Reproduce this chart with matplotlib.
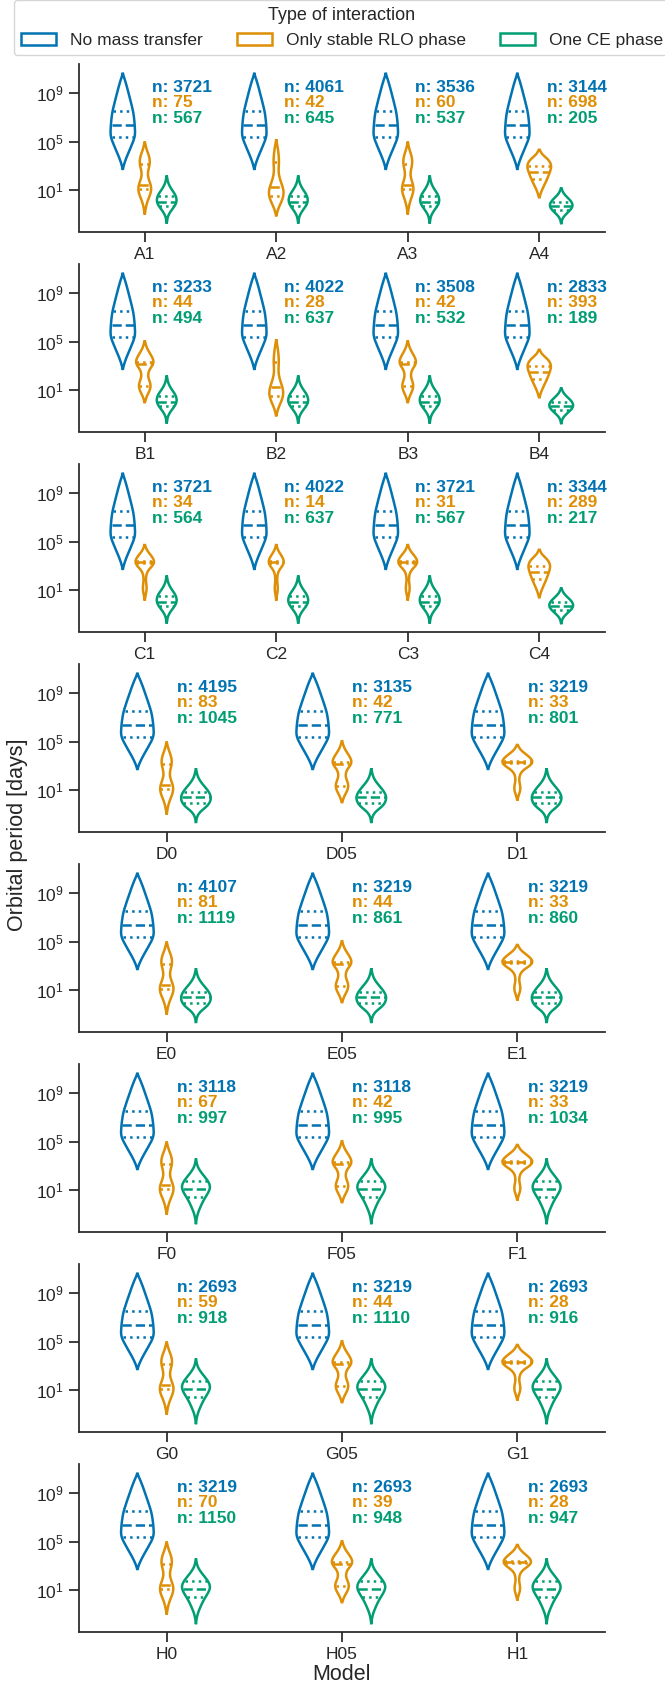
import numpy as np
import matplotlib
matplotlib.use("Agg")
import matplotlib.pyplot as plt
from matplotlib.path import Path
from matplotlib.patches import PathPatch, Patch

plt.rcParams['font.family'] = ['Liberation Sans', 'DejaVu Sans']
plt.rcParams['mathtext.fontset'] = 'custom'
plt.rcParams['mathtext.rm'] = 'Liberation Sans'
plt.rcParams['text.color'] = '#262626'
plt.rcParams['axes.edgecolor'] = '#262626'
plt.rcParams['xtick.color'] = '#262626'
plt.rcParams['ytick.color'] = '#262626'

# ---- data (periods in log10 days) ----
models = [["A1", "A2", "A3", "A4"],
          ["B1", "B2", "B3", "B4"],
          ["C1", "C2", "C3", "C4"],
          ["D0", "D05", "D1"],
          ["E0", "E05", "E1"],
          ["F0", "F05", "F1"],
          ["G0", "G05", "G1"],
          ["H0", "H05", "H1"]]

n_none = [[3721, 4061, 3536, 3144], [3233, 4022, 3508, 2833],
          [3721, 4022, 3721, 3344], [4195, 3135, 3219], [4107, 3219, 3219],
          [3118, 3118, 3219], [2693, 3219, 2693], [3219, 2693, 2693]]
n_rlo = [[75, 42, 60, 698], [44, 28, 42, 393], [34, 14, 31, 289],
         [83, 42, 33], [81, 44, 33], [67, 42, 33], [59, 44, 28], [70, 39, 28]]
n_ce = [[567, 645, 537, 205], [494, 637, 532, 189], [564, 637, 567, 217],
        [1045, 771, 801], [1119, 861, 860], [997, 995, 1034],
        [918, 1110, 916], [1150, 948, 947]]

# shape profiles: log10 period levels and relative density (width)
none_log = [10.7, 10.45, 10.2, 9.8, 9.4, 9.0, 8.5, 8.0, 7.5, 7.0, 6.5, 6.0,
            5.6, 5.2, 4.8, 4.4, 4.0, 3.6, 3.2, 2.9, 2.65]
none_w = [0, 0.05, 0.14, 0.26, 0.37, 0.47, 0.6, 0.72, 0.84, 0.91, 0.96, 0.99,
          1.0, 0.92, 0.76, 0.6, 0.43, 0.27, 0.13, 0.05, 0]
none_q = [5.35, 6.4, 7.56]

rlo_bimodal_log = [5.0, 4.6, 4.2, 3.8, 3.4, 3.0, 2.6, 2.2, 1.8, 1.4, 1.0, 0.6,
                   0.2, -0.2, -0.6, -1.05]
rlo_bimodal_w = [0, 0.15, 0.38, 0.65, 0.78, 0.72, 0.52, 0.46, 0.65, 0.92, 1.0,
                 0.82, 0.52, 0.28, 0.12, 0]
rlo_bimodal_q = [1.06, 1.41, 3.15]

rlo_lowpeak_log = [5.2, 4.8, 4.4, 4.0, 3.6, 3.2, 2.8, 2.4, 2.0, 1.6, 1.2, 0.8,
                   0.4, 0.0, -0.4, -0.8, -1.2]
rlo_lowpeak_w = [0, 0.1, 0.22, 0.3, 0.35, 0.36, 0.32, 0.32, 0.45, 0.65, 0.88,
                 1.0, 0.92, 0.68, 0.38, 0.14, 0]
rlo_lowpeak_q = [0.5, 1.27, 3.3]

rlo_single_log = [4.4, 4.1, 3.8, 3.5, 3.2, 2.9, 2.6, 2.3, 2.0, 1.7, 1.4, 1.1,
                  0.8, 0.5, 0.3]
rlo_single_w = [0, 0.12, 0.4, 0.75, 0.95, 1.0, 0.93, 0.82, 0.7, 0.57, 0.42,
                0.28, 0.15, 0.06, 0]
rlo_single_q = [1.9, 2.46, 2.94]

rlo_peak_log = [4.8, 4.5, 4.2, 3.9, 3.6, 3.3, 3.0, 2.7, 2.4, 2.1, 1.8, 1.5,
                1.2, 0.9, 0.6, 0.35, 0.1]
rlo_peak_w = [0, 0.1, 0.3, 0.6, 0.88, 1.0, 0.82, 0.45, 0.22, 0.14, 0.12, 0.16,
              0.2, 0.18, 0.1, 0.04, 0]
rlo_peak_q = [3.2, 3.3, 3.4]

rlo_double_log = [5.1, 4.7, 4.3, 3.9, 3.6, 3.3, 3.0, 2.7, 2.4, 2.1, 1.8, 1.5,
                  1.2, 0.9, 0.6, 0.3, -0.1]
rlo_double_w = [0, 0.12, 0.35, 0.68, 0.9, 1.0, 0.85, 0.55, 0.4, 0.38, 0.5,
                0.64, 0.65, 0.52, 0.32, 0.14, 0]
rlo_double_q = [1.33, 3.15, 3.3]

ce_narrow_log = [2.2, 1.9, 1.6, 1.3, 1.0, 0.7, 0.4, 0.1, -0.2, -0.5, -0.8,
                 -1.1, -1.4, -1.8]
ce_narrow_w = [0, 0.06, 0.14, 0.3, 0.52, 0.78, 0.95, 1.0, 0.9, 0.65, 0.38,
               0.17, 0.06, 0]
ce_narrow_q = [-0.33, 0.03, 0.45]

ce_low_log = [1.2, 0.95, 0.7, 0.45, 0.2, -0.05, -0.3, -0.55, -0.8, -1.05,
              -1.3, -1.55, -1.85]
ce_low_w = [0, 0.08, 0.22, 0.45, 0.72, 0.93, 1.0, 0.9, 0.65, 0.38, 0.16,
            0.05, 0]
ce_low_q = [-0.7, -0.35, 0.0]

ce_mid_log = [2.8, 2.5, 2.2, 1.9, 1.6, 1.3, 1.0, 0.7, 0.4, 0.1, -0.2, -0.5,
              -0.8, -1.1, -1.4, -1.75]
ce_mid_w = [0, 0.04, 0.1, 0.2, 0.36, 0.56, 0.76, 0.92, 1.0, 0.97, 0.85, 0.6,
            0.3, 0.12, 0.04, 0]
ce_mid_q = [-0.05, 0.39, 0.8]

ce_wide_log = [3.6, 3.3, 3.0, 2.7, 2.4, 2.1, 1.8, 1.5, 1.2, 0.9, 0.6, 0.3,
               0.0, -0.3, -0.6, -0.9, -1.2, -1.5, -1.85]
ce_wide_w = [0, 0.04, 0.1, 0.22, 0.4, 0.6, 0.8, 0.95, 1.0, 0.92, 0.78, 0.62,
             0.48, 0.36, 0.25, 0.15, 0.08, 0.03, 0]
ce_wide_q = [0.37, 1.11, 1.74]

rlo_shape = [["bimodal", "lowpeak", "bimodal", "single"],
             ["double", "lowpeak", "double", "single"],
             ["peak", "peak", "peak", "single"],
             ["bimodal", "double", "peak"],
             ["bimodal", "double", "peak"],
             ["bimodal", "double", "peak"],
             ["bimodal", "double", "peak"],
             ["bimodal", "double", "peak"]]
ce_shape = [["narrow", "narrow", "narrow", "low"],
            ["narrow", "narrow", "narrow", "low"],
            ["narrow", "narrow", "narrow", "low"],
            ["mid", "mid", "mid"],
            ["mid", "mid", "mid"],
            ["wide", "wide", "wide"],
            ["wide", "wide", "wide"],
            ["wide", "wide", "wide"]]

# maximum violin widths (category units)
none_width = 0.187
rlo_width = [[0.10, 0.114, 0.089, 0.183], [0.136, 0.108, 0.128, 0.18],
             [0.146, 0.118, 0.149, 0.167], [0.076, 0.11, 0.177],
             [0.08, 0.11, 0.177], [0.08, 0.11, 0.177], [0.08, 0.11, 0.177],
             [0.078, 0.12, 0.162]]
ce_width = [[0.152, 0.147, 0.147, 0.175], [0.154, 0.154, 0.154, 0.185],
            [0.154, 0.154, 0.154, 0.185], [0.171, 0.171, 0.171],
            [0.171, 0.171, 0.171], [0.162, 0.162, 0.162],
            [0.162, 0.162, 0.162], [0.162, 0.162, 0.162]]

labels = ["No mass transfer", "Only stable RLO phase", "One CE phase"]
colors = ["#0173B2", "#DE8F05", "#029E73"]

rlo_profiles = {"bimodal": (rlo_bimodal_log, rlo_bimodal_w, rlo_bimodal_q),
                "lowpeak": (rlo_lowpeak_log, rlo_lowpeak_w, rlo_lowpeak_q),
                "single": (rlo_single_log, rlo_single_w, rlo_single_q),
                "peak": (rlo_peak_log, rlo_peak_w, rlo_peak_q),
                "double": (rlo_double_log, rlo_double_w, rlo_double_q)}
ce_profiles = {"narrow": (ce_narrow_log, ce_narrow_w, ce_narrow_q),
               "low": (ce_low_log, ce_low_w, ce_low_q),
               "mid": (ce_mid_log, ce_mid_w, ce_mid_q),
               "wide": (ce_wide_log, ce_wide_w, ce_wide_q)}

LW = 1.8


def side_path(xs, ls, start=True):
    # quadratic smoothing through midpoints, ends kept fixed
    verts, codes = [], []
    if start:
        verts.append((xs[0], ls[0]))
        codes.append(Path.MOVETO)
    n = len(xs)
    for i in range(1, n - 1):
        verts.append((xs[i], ls[i]))
        if i < n - 2:
            verts.append(((xs[i] + xs[i + 1]) / 2, (ls[i] + ls[i + 1]) / 2))
        else:
            verts.append((xs[i + 1], ls[i + 1]))
        codes += [Path.CURVE3, Path.CURVE3]
    return verts, codes


def draw_violin(ax, pos, logs, ws, width, quart, color):
    logs = np.asarray(logs, float)
    ws = np.asarray(ws, float)
    half = 0.5 * width * ws / ws.max()
    v1, c1 = side_path(pos - half, logs)
    v2, c2 = side_path((pos + half)[::-1], logs[::-1], start=False)
    verts = np.array(v1 + v2)
    verts[:, 1] = 10.0 ** verts[:, 1]
    patch = PathPatch(Path(verts, c1 + c2), facecolor="none",
                      edgecolor=color, lw=LW, zorder=3)
    ax.add_patch(patch)
    styles = [":", "--", ":"]
    for q, ls in zip(quart, styles):
        h = np.interp(q, logs[::-1], half[::-1]) * 0.95
        ax.plot([pos - h, pos + h], [10.0 ** q] * 2, ls=ls, color=color,
                lw=LW, zorder=3)


W, H = 665, 1687
fig = plt.figure(figsize=(W / 100, H / 100), dpi=100)

axes = []
for r, row in enumerate(models):
    top = 64 + 200 * r
    ax = fig.add_axes([79 / W, 1 - (top + 167.5) / H, 526 / W, 167.5 / H])
    axes.append(ax)
    ax.set_yscale("log")
    for i, m in enumerate(row):
        draw_violin(ax, i - 0.167, none_log, none_w, none_width, none_q,
                    colors[0])
        lg, wd, qq = rlo_profiles[rlo_shape[r][i]]
        draw_violin(ax, i, lg, wd, rlo_width[r][i], qq, colors[1])
        lg, wd, qq = ce_profiles[ce_shape[r][i]]
        draw_violin(ax, i + 0.167, lg, wd, ce_width[r][i], qq, colors[2])
        trans = ax.get_xaxis_transform()
        for k, nn in enumerate([n_none[r][i], n_rlo[r][i], n_ce[r][i]]):
            ax.text(i + 0.058, 0.862 - 0.093 * k, f"n: {nn}", transform=trans,
                    color=colors[k], fontsize=12.5, fontweight="bold",
                    ha="left", va="center")
    ax.set_xlim(-0.5, len(row) - 0.5)
    ax.set_ylim(10 ** -2.45, 10 ** 11.42)
    ax.set_xticks(range(len(row)))
    ax.set_xticklabels(row)
    ax.set_yticks([1e1, 1e5, 1e9])
    ax.yaxis.set_minor_locator(matplotlib.ticker.NullLocator())
    ax.tick_params(axis="both", labelsize=12.5, length=7, width=1.25, pad=4)
    for s in ["top", "right"]:
        ax.spines[s].set_visible(False)
    for s in ["left", "bottom"]:
        ax.spines[s].set_linewidth(1.25)

handles = [Patch(facecolor="white", edgecolor=c, lw=LW, label=l)
           for c, l in zip(colors, labels)]
axes[0].legend(handles=handles, loc="lower center", ncol=3,
               bbox_to_anchor=(0.5, 1.054), borderaxespad=0,
               title="Type of interaction", fontsize=12.5, title_fontsize=13)

fig.text(0.026, 0.505, "Orbital period [days]", rotation=90, ha="center",
         va="center", fontsize=15.5)
fig.text((79 + 263) / W, 1 - 1675 / H, "Model", ha="center", va="center",
         fontsize=15.5)

fig.savefig("out.png", dpi=100)
